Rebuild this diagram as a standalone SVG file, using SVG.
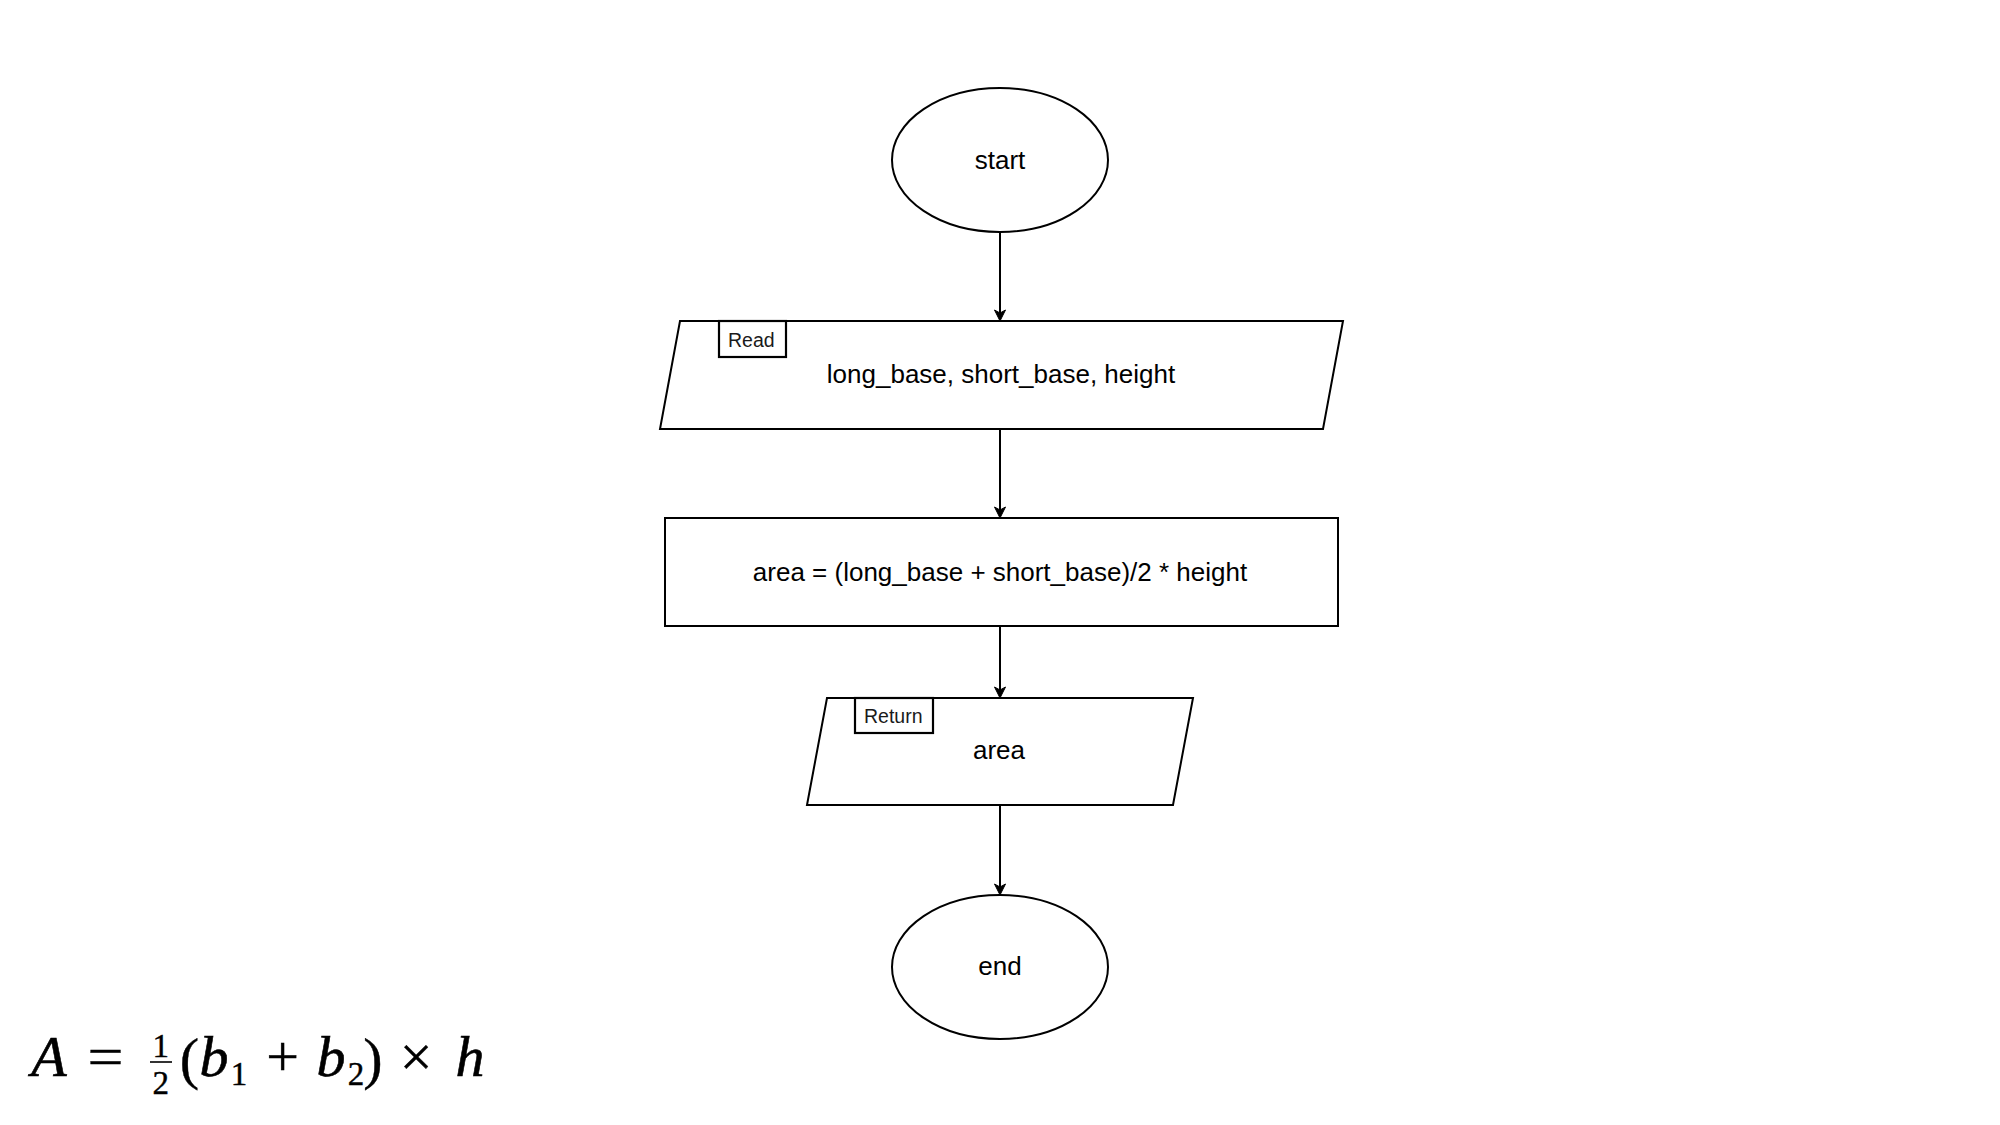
<svg xmlns="http://www.w3.org/2000/svg" width="2000" height="1125" viewBox="0 0 2000 1125">
  <defs>
    <style>
      .shape { fill: #ffffff; stroke: #000000; stroke-width: 2; }
      .tag { fill: #ffffff; stroke: #000000; stroke-width: 2.2; }
      .lbl { font-family: "Liberation Sans", Arial, sans-serif; font-size: 26px; fill: #000000; text-anchor: middle; }
      .tagtxt { font-family: "Liberation Sans", Arial, sans-serif; font-size: 19.5px; fill: #1a1a1a; }
      .edge { fill: none; stroke: #000000; stroke-width: 2; }
      .mi { font-family: "Liberation Serif", "Times New Roman", serif; font-style: italic; font-size: 58px; fill: #000000; stroke: #000000; stroke-width: 0.6; text-anchor: middle; }
      .mo { font-family: "Liberation Serif", "Times New Roman", serif; font-size: 58px; fill: #000000; stroke: #000000; stroke-width: 0.4; text-anchor: middle; }
      .mf { font-family: "Liberation Serif", "Times New Roman", serif; font-size: 33px; fill: #000000; stroke: #000000; stroke-width: 0.4; text-anchor: middle; }
      .ms { font-family: "Liberation Serif", "Times New Roman", serif; font-size: 33px; fill: #000000; stroke: #000000; stroke-width: 0.4; text-anchor: middle; }
    </style>
    <marker id="arrow" markerUnits="userSpaceOnUse" markerWidth="16" markerHeight="16" viewBox="-14 -8 16 16" refX="-4" refY="0" orient="auto">
      <path d="M0,0 L-11,-5.5 L-8,0 L-11,5.5 Z" fill="#000000" stroke="#000000" stroke-width="1" stroke-linejoin="miter"/>
    </marker>
  </defs>
  <rect width="2000" height="1125" fill="#ffffff"/>

  <g id="connectors">
    <path class="edge" d="M1000,232 L1000,317" marker-end="url(#arrow)"/>
    <path class="edge" d="M1000,429 L1000,514" marker-end="url(#arrow)"/>
    <path class="edge" d="M1000,626 L1000,694" marker-end="url(#arrow)"/>
    <path class="edge" d="M1000,805 L1000,891" marker-end="url(#arrow)"/>
  </g>

  <g id="start">
    <ellipse class="shape" cx="1000" cy="160" rx="108" ry="72"/>
    <text class="lbl" x="1000" y="169">start</text>
  </g>

  <g id="read">
    <polygon class="shape" points="680,321 1343,321 1323,429 660,429"/>
    <rect class="tag" x="719" y="321" width="67" height="36"/>
    <text class="tagtxt" x="728" y="347">Read</text>
    <text class="lbl" x="1001" y="383">long_base, short_base, height</text>
  </g>

  <g id="compute">
    <rect class="shape" x="665" y="518" width="673" height="108"/>
    <text class="lbl" x="1000" y="581">area = (long_base + short_base)/2 * height</text>
  </g>

  <g id="return">
    <polygon class="shape" points="827,698 1193,698 1173,805 807,805"/>
    <rect class="tag" x="855" y="698" width="78" height="35"/>
    <text class="tagtxt" x="864" y="723">Return</text>
    <text class="lbl" x="999" y="759">area</text>
  </g>

  <g id="end">
    <ellipse class="shape" cx="1000" cy="967" rx="108" ry="72"/>
    <text class="lbl" x="1000" y="975">end</text>
  </g>

  <g id="formula">
    <text class="mi" x="49" y="1076">A</text>
    <text class="mo" x="105.5" y="1076" textLength="36" lengthAdjust="spacingAndGlyphs">=</text>
    <text class="mf" x="160.7" y="1057">1</text>
    <line x1="150" y1="1062" x2="172" y2="1062" stroke="#000000" stroke-width="1.6"/>
    <text class="mf" x="160.7" y="1094">2</text>
    <text class="mo" x="189.5" y="1078">(</text>
    <text class="mi" x="214" y="1076">b</text>
    <text class="ms" x="239" y="1085">1</text>
    <text class="mo" x="282.5" y="1076">+</text>
    <text class="mi" x="331" y="1076">b</text>
    <text class="ms" x="356" y="1085">2</text>
    <text class="mo" x="373" y="1078">)</text>
    <text class="mo" x="416" y="1076">×</text>
    <text class="mi" x="470" y="1076">h</text>
  </g>
</svg>
